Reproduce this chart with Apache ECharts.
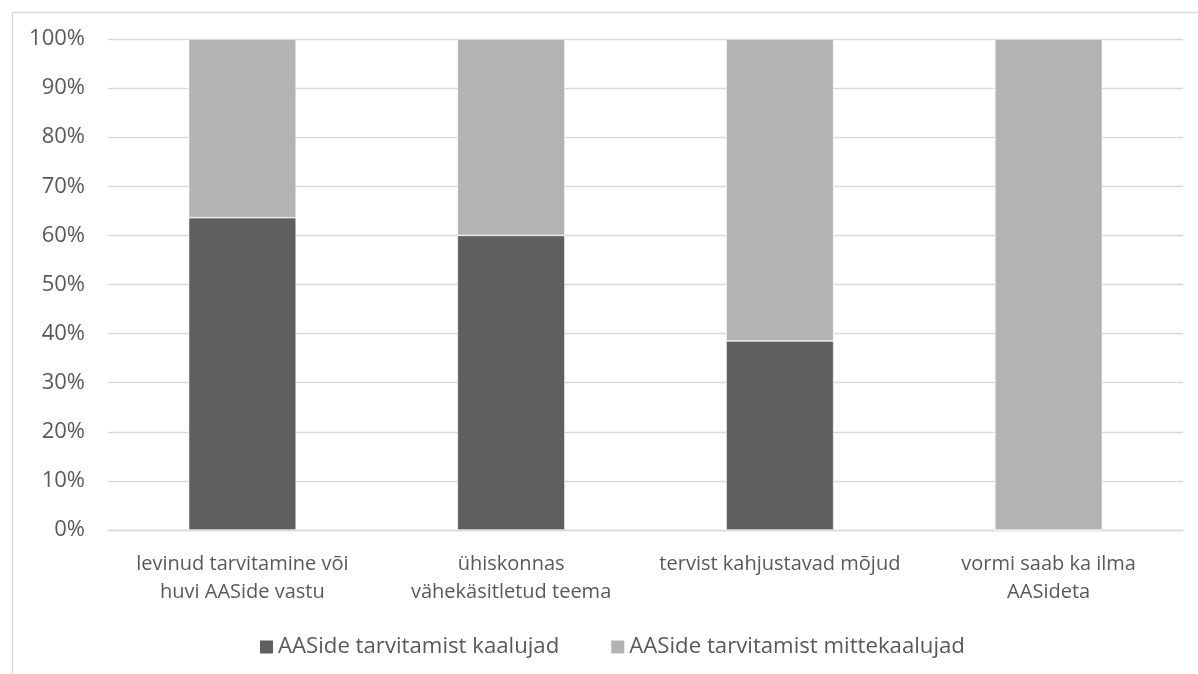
<!DOCTYPE html>
<html><head><meta charset="utf-8">
<script src="https://cdn.jsdelivr.net/npm/echarts@6/dist/echarts.min.js"></script>
<style>html,body{margin:0;padding:0;background:#fff}#c{width:1198px;height:674px}</style>
</head><body><div id="c"></div>
<script>
const categories = ["levinud tarvitamine või\nhuvi AASide vastu", "ühiskonnas\nvähekäsitletud teema", "tervist kahjustavad mõjud", "vormi saab ka ilma\nAASideta"];
const seriesNames = ["AASide tarvitamist kaalujad", "AASide tarvitamist mittekaalujad"];
const considering = [63.6, 60.0, 38.5, 0];
const notConsidering = [36.4, 40.0, 61.5, 100];
const yTicks = [0, 10, 20, 30, 40, 50, 60, 70, 80, 90, 100];

const font = "'Open Sans', 'Noto Sans', sans-serif";
const chart = echarts.init(document.getElementById('c'));
chart.setOption({
  animation: false,
  backgroundColor: '#fff',
  graphic: [{type: 'rect', left: 10, top: 10, shape: {width: 1210, height: 700}, style: {fill: 'none', stroke: '#d9d9d9', lineWidth: 1.3}}],
  grid: {left: 108, right: 15, top: 39, bottom: 144},
  legend: {
    top: 631, left: 253, itemWidth: 15, itemHeight: 15, itemGap: 50,
    icon: 'rect',
    textStyle: {color: '#595959', fontSize: 22.2, fontFamily: font, padding: [0, 0, 0, -1]},
    data: seriesNames
  },
  xAxis: {
    type: 'category', data: categories,
    axisTick: {show: false},
    axisLine: {lineStyle: {color: '#d9d9d9', width: 1.3}},
    axisLabel: {color: '#595959', fontSize: 20, fontFamily: font, lineHeight: 28, margin: 20, interval: 0}
  },
  yAxis: {
    type: 'value', min: 0, max: 100, interval: 10,
    axisLine: {show: false}, axisTick: {show: false},
    splitLine: {lineStyle: {color: '#d9d9d9', width: 1.3}},
    axisLabel: {color: '#595959', fontSize: 22, fontFamily: font, margin: 23,
      formatter: v => yTicks.includes(v) ? v + '%' : ''}
  },
  series: [
    {name: seriesNames[0], type: 'bar', stack: 't', data: considering, barWidth: '40%',
      itemStyle: {color: '#5f5f5f', borderColor: '#fff', borderWidth: 0.6}},
    {name: seriesNames[1], type: 'bar', stack: 't', data: notConsidering, barWidth: '40%',
      itemStyle: {color: '#b3b3b3', borderColor: '#fff', borderWidth: 0.6}}
  ]
});
</script></body></html>
